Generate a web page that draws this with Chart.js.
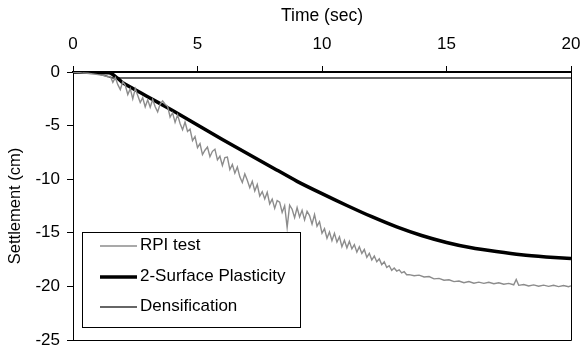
<!DOCTYPE html>
<html>
<head>
<meta charset="utf-8">
<script src="https://cdn.jsdelivr.net/npm/chart.js@4.4.1/dist/chart.umd.min.js"></script>
<style>
  html, body { margin: 0; padding: 0; background: #fff; }
  #chart { display: block; }
</style>
</head>
<body>
<canvas id="chart" width="580" height="351"></canvas>
<script>
// Axis ticks
const timeTicks = [0, 5, 10, 15, 20];
const settlementTicks = [0, -5, -10, -15, -20, -25];

// RPI test (measured, noisy)
const rpiTime = [
  0, 0.2, 0.4, 0.6, 0.8, 1.0, 1.2, 1.4,
  1.5, 1.6, 1.7, 1.8, 1.9, 2.0, 2.1, 2.2, 2.3, 2.4, 2.5, 2.6, 2.7, 2.8, 2.9,
  3.0, 3.1, 3.2, 3.3, 3.4, 3.5, 3.6, 3.7, 3.8, 3.9, 4.0, 4.1, 4.2, 4.3, 4.4,
  4.5, 4.6, 4.7, 4.8, 4.9, 5.0, 5.1, 5.2, 5.3, 5.4, 5.5, 5.6, 5.7, 5.8, 5.9,
  6.0, 6.1, 6.2, 6.3, 6.4, 6.5, 6.6, 6.7, 6.8, 6.9, 7.0, 7.1, 7.2, 7.3, 7.4,
  7.5, 7.6, 7.7, 7.8, 7.9, 8.0, 8.1, 8.2, 8.3, 8.4, 8.5, 8.6, 8.7, 8.8, 8.9,
  9.0, 9.1, 9.2, 9.3, 9.4, 9.5, 9.6, 9.7, 9.8, 9.9, 10.0, 10.1, 10.2, 10.3,
  10.4, 10.5, 10.6, 10.7, 10.8, 10.9, 11.0, 11.1, 11.2, 11.3, 11.4, 11.5,
  11.6, 11.7, 11.8, 11.9, 12.0, 12.1, 12.2, 12.3, 12.4, 12.5, 12.6, 12.7,
  12.8, 12.9, 13.0, 13.1, 13.2, 13.3, 13.4, 13.5,
  13.7, 13.9, 14.1, 14.3, 14.5, 14.7, 14.9, 15.1, 15.3, 15.5, 15.7, 15.9,
  16.1, 16.3, 16.5, 16.7, 16.9, 17.1, 17.3, 17.5, 17.7, 17.8, 17.9, 18.1,
  18.3, 18.5, 18.7, 18.9, 19.1, 19.3, 19.5, 19.7, 19.9, 20.0
];
const rpiSettlement = [
  0, -0.05, -0.1, -0.12, -0.18, -0.25, -0.3, -0.45,
  -0.4, -0.96, -0.52, -1.18, -1.64, -0.9, -1.25, -2.1, -1.55, -2.5, -1.55, -2.2, -2.85, -2.4, -3.25,
  -2.6, -3.28, -2.56, -3.24, -3.72, -3.0, -2.7, -3.0, -3.2, -4.2, -3.8, -4.7, -4.0, -4.8, -5.38,
  -4.66, -5.54, -5.32, -6.4, -6.03, -7.05, -6.68, -7.7, -7.3, -7.0, -7.9, -7.4, -7.2, -8.2, -7.86,
  -8.72, -7.98, -7.94, -9.1, -8.62, -9.44, -8.86, -9.78, -10.3, -9.5, -10.1, -10.8, -10.2, -11.1, -10.5,
  -11.58, -11.16, -11.84, -11.22, -12.3, -11.86, -12.72, -12.0, -12.14, -13.1, -12.48, -14.5, -12.42, -12.8, -13.58,
  -12.65, -13.52, -12.9, -13.8, -13.0, -13.4, -14.2, -13.3, -14.38, -13.96, -15.04, -14.62, -15.5, -14.92,
  -15.73, -15.05, -15.87, -15.38, -16.3, -15.7, -16.4, -15.8, -16.5, -16.1, -16.8, -16.3,
  -16.93, -16.56, -17.29, -16.91, -17.54, -17.17, -17.7, -17.43, -17.97, -17.7, -18.23, -18.07,
  -18.5, -18.29, -18.57, -18.46, -18.74, -18.63, -18.91, -18.9,
  -19.0, -18.95, -19.12, -19.08, -19.3, -19.25, -19.42, -19.38, -19.55, -19.5, -19.66, -19.55,
  -19.7, -19.6, -19.72, -19.62, -19.75, -19.66, -19.8, -19.72, -19.85, -19.35, -19.9, -19.82,
  -19.96, -19.86, -19.98, -19.88, -20.0, -19.9, -20.02, -19.92, -20.03, -19.95
];

// 2-Surface Plasticity (model)
const plasticityTime = [0, 1.0, 1.5, 1.8, 2.0, 3.0, 4.0, 5.0, 6.0, 7.0, 8.0, 9.0, 10.0, 11.0, 12.0, 13.0, 14.0, 15.0, 16.0, 17.0, 18.0, 19.0, 20.0];
const plasticitySettlement = [0, -0.05, -0.1, -0.6, -1.0, -2.3, -3.6, -4.95, -6.3, -7.6, -8.9, -10.2, -11.35, -12.45, -13.5, -14.45, -15.25, -15.9, -16.4, -16.75, -17.05, -17.25, -17.4];

// Densification (model)
const densificationTime = [0, 0.8, 1.3, 1.6, 20];
const densificationSettlement = [0, -0.05, -0.35, -0.55, -0.55];

function toPoints(xs, ys) {
  return xs.map((x, i) => ({ x: x, y: ys[i] }));
}

// Box around plot area + legend drawn inside the plot
const framePlugin = {
  id: 'frame',
  afterDatasetsDraw(chart) {
    const { ctx, chartArea: a } = chart;
    ctx.save();
    ctx.strokeStyle = '#000';
    ctx.lineWidth = 1;
    ctx.beginPath();
    ctx.moveTo(a.right + 0.5, a.top);
    ctx.lineTo(a.right + 0.5, a.bottom + 0.5);
    ctx.lineTo(a.left, a.bottom + 0.5);
    ctx.stroke();

    // legend box
    const bx = 82, by = 232, bw = 218, bh = 95;
    ctx.fillStyle = '#fff';
    ctx.fillRect(bx, by, bw, bh);
    ctx.strokeRect(bx + 0.5, by + 0.5, bw, bh);
    const rows = [246, 277, 307];
    ctx.font = '17px "Liberation Sans", Arial, sans-serif';
    ctx.textBaseline = 'middle';
    chart.data.datasets.forEach((ds, i) => {
      const y = rows[i];
      ctx.strokeStyle = ds.borderColor;
      ctx.lineWidth = ds.borderWidth;
      ctx.beginPath();
      ctx.moveTo(100, y);
      ctx.lineTo(137, y);
      ctx.stroke();
      ctx.fillStyle = '#000';
      ctx.fillText(ds.label, 140, y - 1);
    });
    ctx.restore();
  }
};

const family = '"Liberation Sans", Arial, sans-serif';
const tickFont = { family: family, size: 17 };
const titleFont = { family: family, size: 17.5 };

new Chart(document.getElementById('chart'), {
  type: 'line',
  data: {
    datasets: [
      {
        label: 'RPI test',
        data: toPoints(rpiTime, rpiSettlement),
        borderColor: '#8c8c8c',
        borderWidth: 1.4,
        pointRadius: 0,
        tension: 0
      },
      {
        label: '2-Surface Plasticity',
        data: toPoints(plasticityTime, plasticitySettlement),
        borderColor: '#000',
        borderWidth: 3.5,
        pointRadius: 0,
        tension: 0.2
      },
      {
        label: 'Densification',
        data: toPoints(densificationTime, densificationSettlement),
        borderColor: '#333',
        borderWidth: 1.5,
        pointRadius: 0,
        tension: 0
      }
    ]
  },
  options: {
    responsive: false,
    animation: false,
    layout: { padding: { top: 0, left: 0, right: 9, bottom: 11 } },
    plugins: {
      legend: { display: false },
      tooltip: { enabled: false }
    },
    scales: {
      x: {
        type: 'linear',
        position: 'top',
        min: timeTicks[0],
        max: timeTicks[timeTicks.length - 1],
        afterBuildTicks: s => { s.ticks = timeTicks.map(v => ({ value: v })); },
        afterFit: s => { s.height = 72; s.paddingLeft = 0; s.paddingRight = 0; },
        ticks: { color: '#000', font: tickFont, padding: 11, maxRotation: 0 },
        grid: { drawOnChartArea: false, drawTicks: true, tickLength: 6, color: '#000' },
        border: { display: true, color: '#000', width: 2 },
        title: { display: true, text: 'Time (sec)', color: '#000', font: titleFont, padding: { top: 6, bottom: 0 } }
      },
      y: {
        type: 'linear',
        position: 'left',
        min: settlementTicks[settlementTicks.length - 1],
        max: settlementTicks[0],
        afterBuildTicks: s => { s.ticks = settlementTicks.map(v => ({ value: v })); },
        afterFit: s => { s.width = 73; s.paddingTop = 0; s.paddingBottom = 0; },
        ticks: { color: '#000', font: tickFont, padding: 7 },
        grid: { drawOnChartArea: false, drawTicks: true, tickLength: 6, color: '#000' },
        border: { display: true, color: '#000', width: 1 },
        title: { display: true, text: 'Settlement (cm)', color: '#000', font: { family: family, size: 16.5 }, padding: { top: 6, bottom: 0 } }
      }
    }
  },
  plugins: [framePlugin]
});
</script>
</body>
</html>
